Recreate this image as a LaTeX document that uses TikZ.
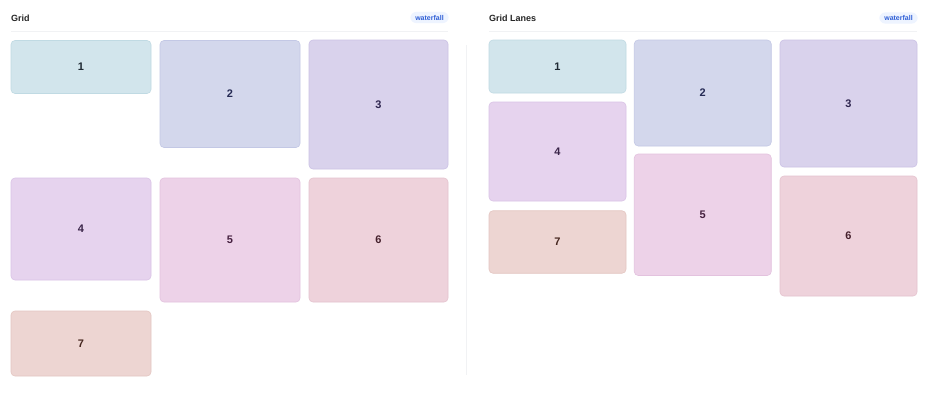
\documentclass[tikz,border=0pt]{standalone}
\usepackage{fontspec}
\setmainfont{Liberation Sans}
\begin{document}
\begin{tikzpicture}[x=1pt,y=-1pt,
  box/.style={rounded corners=4pt, line width=0.6pt, inner sep=0pt, font=\bfseries\fontsize{11}{13}\selectfont},
  hdr/.style={anchor=west, inner sep=0pt, font=\bfseries\fontsize{9}{11}\selectfont, text=black!85},
  badge/.style={rounded corners=6pt, fill=badgebg, text=badgefg, inner xsep=5pt, inner ysep=3pt, font=\bfseries\fontsize{7}{8}\selectfont},
  sep/.style={draw=sepgray, line width=0.8pt},
  c1/.style={fill=f1, draw=d1, text=t1},
  c2/.style={fill=f2, draw=d2, text=t2},
  c3/.style={fill=f3, draw=d3, text=t3},
  c4/.style={fill=f4, draw=d4, text=t4},
  c5/.style={fill=f5, draw=d5, text=t5},
  c6/.style={fill=f6, draw=d6, text=t6},
  c7/.style={fill=f7, draw=d7, text=t7},
]
\definecolor{badgebg}{HTML}{EEF4FF}
\definecolor{badgefg}{HTML}{2F5FD6}
\definecolor{sepgray}{HTML}{F1F2F4}
\definecolor{f1}{HTML}{D2E5EC}\definecolor{d1}{HTML}{C0DAE3}\definecolor{t1}{HTML}{1F2A33}
\definecolor{f2}{HTML}{D3D7EC}\definecolor{d2}{HTML}{C3C8E5}\definecolor{t2}{HTML}{262B55}
\definecolor{f3}{HTML}{D9D2EC}\definecolor{d3}{HTML}{CBC1E5}\definecolor{t3}{HTML}{2F2650}
\definecolor{f4}{HTML}{E6D3EE}\definecolor{d4}{HTML}{DAC3E6}\definecolor{t4}{HTML}{3A2448}
\definecolor{f5}{HTML}{EDD2E8}\definecolor{d5}{HTML}{E3C2DE}\definecolor{t5}{HTML}{45203F}
\definecolor{f6}{HTML}{EED2DB}\definecolor{d6}{HTML}{E5C3CF}\definecolor{t6}{HTML}{45202C}
\definecolor{f7}{HTML}{EDD5D2}\definecolor{d7}{HTML}{E4C6C1}\definecolor{t7}{HTML}{45261F}
\fill[white] (0,0) rectangle (930,400);
\useasboundingbox (0,0) rectangle (930,400);
% left panel
\node[hdr] (hL) at (11,18) {Grid};
\node[badge] (bL) at (429.5,17.5) {waterfall};
\coordinate (sL1) at (11,31.5);
\coordinate (sL2) at (448,31.5);
\draw[sep] (sL1) -- (sL2);
\node[box,c1,minimum width=140,minimum height=53] (L1) at (81,67) {1};
\node[box,c2,minimum width=140,minimum height=107] (L2) at (230,94) {2};
\node[box,c3,minimum width=139,minimum height=129] (L3) at (378.5,104.5) {3};
\node[box,c4,minimum width=140,minimum height=102] (L4) at (81,229) {4};
\node[box,c5,minimum width=140,minimum height=124] (L5) at (230,240) {5};
\node[box,c6,minimum width=139,minimum height=124] (L6) at (378.5,240) {6};
\node[box,c7,minimum width=140,minimum height=65] (L7) at (81,343.5) {7};
% divider
\coordinate (v1) at (466.5,45);
\coordinate (v2) at (466.5,375);
\draw[sep] (v1) -- (v2);
% right panel
\node[hdr] (hR) at (489,18.5) {Grid Lanes};
\node[badge] (bR) at (898.5,18) {waterfall};
\coordinate (sR1) at (489,31.5);
\coordinate (sR2) at (917,31.5);
\draw[sep] (sR1) -- (sR2);
\node[box,c1,minimum width=137,minimum height=53] (R1) at (557.5,66.5) {1};
\node[box,c2,minimum width=137,minimum height=106] (R2) at (702.75,93) {2};
\node[box,c3,minimum width=137,minimum height=127] (R3) at (848.5,103.5) {3};
\node[box,c4,minimum width=137,minimum height=99] (R4) at (557.5,151.5) {4};
\node[box,c5,minimum width=137,minimum height=121.5] (R5) at (702.75,214.75) {5};
\node[box,c6,minimum width=137,minimum height=120] (R6) at (848.5,236) {6};
\node[box,c7,minimum width=137,minimum height=62.5] (R7) at (557.5,242) {7};
\end{tikzpicture}
\end{document}
